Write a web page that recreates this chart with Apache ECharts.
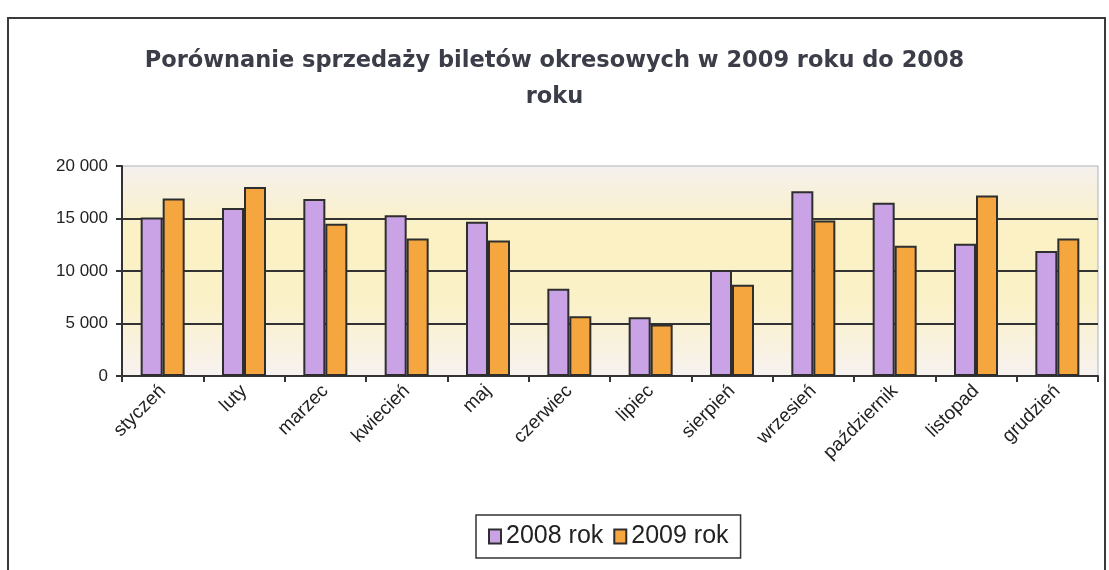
<!DOCTYPE html>
<html>
<head>
<meta charset="utf-8">
<script src="https://cdn.jsdelivr.net/npm/echarts@6/dist/echarts.min.js"></script>
<style>
  html, body { margin: 0; padding: 0; background: #fff; }
  #chart { width: 1109px; height: 570px; }
</style>
</head>
<body>
<div id="chart"></div>
<script>
const months = ['styczeń', 'luty', 'marzec', 'kwiecień', 'maj', 'czerwiec', 'lipiec', 'sierpień', 'wrzesień', 'październik', 'listopad', 'grudzień']
const sales2008 = [15100, 16000, 16850, 15300, 14700, 8300, 5600, 10100, 17600, 16500, 12600, 11900]
const sales2009 = [16900, 18000, 14500, 13100, 12900, 5700, 4900, 8700, 14800, 12400, 17200, 13100]
const seriesNames = ['2008 rok', '2009 rok']

const chart = echarts.init(document.getElementById('chart'))

const fmt = v => String(v).replace(/\B(?=(\d{3})+(?!\d))/g, ' ')
const barBorder = { borderColor: '#2e2e2e', borderWidth: 2 }

chart.setOption({
  animation: false,
  backgroundColor: '#fff',
  title: {
    text: 'Porównanie sprzedaży biletów okresowych w 2009 roku do 2008\nroku',
    left: 'center',
    top: 38,
    textStyle: {
      fontFamily: 'DejaVu Sans',
      fontWeight: 'bold',
      fontSize: 22.5,
      lineHeight: 36,
      color: '#3b3d48',
    },
  },
  graphic: [{
    type: 'rect',
    shape: { x: 8, y: 18, width: 1097, height: 560 },
    style: { fill: 'none', stroke: '#3a3a3a', lineWidth: 2 },
    silent: true,
  }],
  legend: {
    data: seriesNames,
    left: 476,
    bottom: 12,
    icon: 'rect',
    itemWidth: 12,
    itemHeight: 14,
    itemGap: 10,
    padding: [9, 12],
    borderColor: '#333',
    borderWidth: 1.5,
    textStyle: { fontFamily: 'Liberation Sans', fontSize: 25, color: '#222' },
  },
  grid: {
    left: 122,
    right: 11,
    top: 166,
    bottom: 194,
    show: true,
    borderColor: '#a9b3b8',
    borderWidth: 1,
    backgroundColor: {
      type: 'linear', x: 0, y: 0, x2: 0, y2: 1,
      colorStops: [
        { offset: 0, color: '#f5f0ef' },
        { offset: 0.3, color: '#fbf1c4' },
        { offset: 0.65, color: '#fbf1c8' },
        { offset: 1, color: '#f7f2f1' },
      ],
    },
  },
  xAxis: {
    type: 'category',
    data: months,
    axisLine: { lineStyle: { color: '#333', width: 2 } },
    axisTick: { show: true, length: 6, lineStyle: { color: '#333', width: 2 } },
    axisLabel: {
      rotate: 45,
      margin: 12,
      fontFamily: 'Liberation Sans',
      fontSize: 19,
      color: '#222',
    },
  },
  yAxis: {
    type: 'value',
    min: 0,
    max: 20000,
    interval: 5000,
    axisLine: { show: true, lineStyle: { color: '#333', width: 2 } },
    axisTick: { show: true, length: 6, lineStyle: { color: '#333', width: 2 } },
    axisLabel: {
      formatter: fmt,
      margin: 14,
      fontFamily: 'Liberation Sans',
      fontSize: 17,
      color: '#222',
    },
    splitLine: { showMaxLine: false, lineStyle: { color: '#333', width: 2 } },
  },
  series: [
    {
      name: seriesNames[0],
      type: 'bar',
      data: sales2008,
      barWidth: 22,
      barGap: '0%',
      itemStyle: { color: '#c9a3e6', ...barBorder },
    },
    {
      name: seriesNames[1],
      type: 'bar',
      data: sales2009,
      barWidth: 22,
      itemStyle: { color: '#f6a63e', ...barBorder },
    },
  ],
})
</script>
</body>
</html>
